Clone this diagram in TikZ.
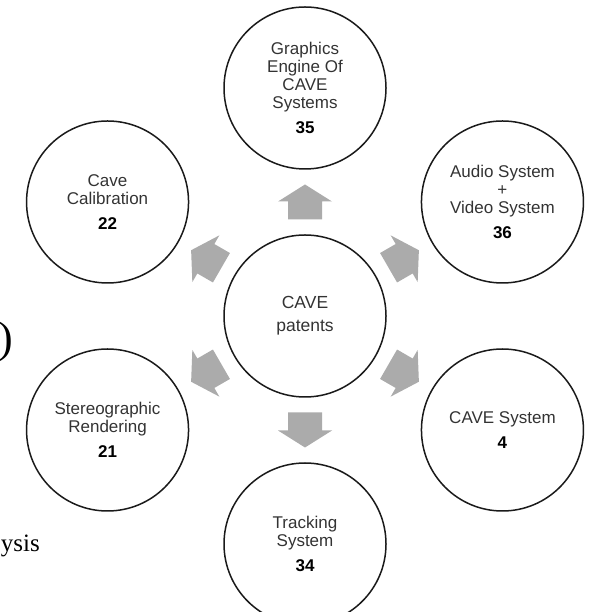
\documentclass[tikz,border=0pt]{standalone}
\usepackage{fontspec}
\setmainfont{Liberation Sans}
\newfontfamily\pageserif{Liberation Serif}
\usetikzlibrary{calc}
\definecolor{arrowgray}{HTML}{ABABAB}
\definecolor{ringline}{HTML}{1A1A1A}
\definecolor{labeltext}{HTML}{333333}

\begin{document}
\begin{tikzpicture}[x=1pt, y=1pt,
		bubble/.style={circle, draw=ringline, line width=1.5pt, minimum size=162pt, inner sep=0pt,
			align=center, text=labeltext, font=\fontsize{17}{18}\selectfont},
		hubbubble/.style={bubble, font=\fontsize{17.5}{23}\selectfont},
		outarrow/.pic={\fill[arrowgray] (-17.5,-17) -- (0.5,-17) -- (0.5,-27) -- (17.5,0)
			-- (0.5,27) -- (0.5,17) -- (-17.5,17) -- cycle;}]
	\useasboundingbox (0,0) rectangle (592,612);

	% centre and the six topics round it
	\node [hubbubble] (hub) at (305,296) {CAVE\\patents};
	\node [bubble] (graphics) at ($(hub)+(90:228)$) {Graphics\\Engine Of\\CAVE\\Systems\\[7pt]\textcolor{black}{\bfseries 35}};
	\node [bubble] (audio) at ($(hub)+(30:228)$) {Audio System\\+\\Video System\\[7pt]\textcolor{black}{\bfseries 36}};
	\node [bubble] (calib) at ($(hub)+(150:228)$) {Cave\\Calibration\\[7pt]\textcolor{black}{\bfseries 22}};
	\node [bubble] (stereo) at ($(hub)+(210:228)$) {Stereographic\\Rendering\\[7pt]\textcolor{black}{\bfseries 21}};
	\node [bubble] (cavesys) at ($(hub)+(330:228)$) {CAVE System\\[7pt]\textcolor{black}{\bfseries 4}};
	\node [bubble] (tracking) at ($(hub)+(270:228)$) {Tracking\\System\\[7pt]\textcolor{black}{\bfseries 34}};

	% block arrows
	\pic [rotate=90] at ($(hub)!0.5!(graphics)$) {outarrow};
	\pic [rotate=30] at ($(hub)!0.5!(audio)$) {outarrow};
	\pic [rotate=150] at ($(hub)!0.5!(calib)$) {outarrow};
	\pic [rotate=210] at ($(hub)!0.5!(stereo)$) {outarrow};
	\pic [rotate=330] at ($(hub)!0.5!(cavesys)$) {outarrow};
	\pic [rotate=270] at ($(hub)!0.5!(tracking)$) {outarrow};

	% bits of the page text at the left edge
	\node [anchor=east, inner sep=0pt, font=\pageserif\fontsize{44}{44}\selectfont] (paren) at (13,270) {)};
	\node [anchor=base east, inner sep=0pt, font=\pageserif\fontsize{25}{25}\selectfont] (ysis) at (40,60) {ysis};
\end{tikzpicture}
\end{document}
